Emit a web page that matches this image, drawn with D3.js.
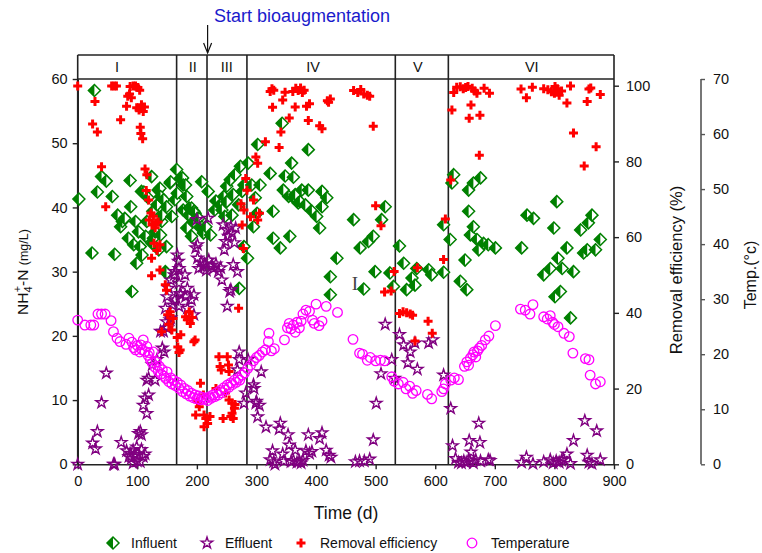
<!DOCTYPE html>
<html><head><meta charset="utf-8">
<script src="https://cdn.jsdelivr.net/npm/d3@7"></script>
<style>body{margin:0;background:#fff}svg{display:block;font-family:Arial,"Liberation Sans",sans-serif}</style>
</head><body><svg id="c" width="762" height="553"></svg>
<script>
// ---- data: [day, value] ----
const influent = [[2,41.3],[24,32.9],[28,58.2],[33,42.4],[40,44.8],[48,44.1],[58,41.7],[62,32.7],[67,38.8],[72,37.0],[75,37.8],[79,38.3],[85,35.2],[88,44.2],[89,40.1],[91,26.9],[94,34.2],[97,37.8],[99,31.3],[102,36.2],[105,33.9],[107,42.5],[108,32.6],[111,42.4],[114,35.5],[116,37.8],[118,41.5],[124,44.8],[125,34.4],[126,39.4],[127,35.2],[130,36.2],[133,40.4],[135,42.7],[136,33.4],[138,43.0],[139,41.7],[139,35.7],[141,37.8],[142,38.8],[144,41.2],[147,30.0],[149,40.1],[149,33.9],[149,29.8],[155,43.8],[156,44.0],[158,38.6],[163,41.2],
[166,45.9],[167,42.2],[172,44.5],[176,44.6],[177,43.5],[177,39.6],[181,43.5],[183,41.7],[183,36.8],[186,38.8],[187,39.9],[191,39.9],[191,35.5],[194,37.8],[195,39.4],[197,39.1],[201,38.3],[203,38.3],[206,36.8],[208,44.0],[208,37.0],[211,36.0],[215,37.0],
[219,42.5],[223,35.7],[230,39.6],[232,41.0],[239,40.4],[242,39.6],[245,41.7],[247,38.6],[250,43.3],[250,40.9],[256,44.3],[259,38.8],[261,42.0],[264,45.1],[270,40.4],[271,27.4],[273,46.4],[276,42.5],[279,33.9],[279,43.5],
[285,32.1],[286,46.9],[292,43.5],[295,37.0],[298,41.5],[301,39.1],[302,49.8],[306,43.5],[323,45.3],[328,39.4],[328,35.2],[340,33.7],[343,53.1],[345,42.7],[348,44.9],[354,41.7],[356,35.5],[359,46.9],[362,44.7],[362,41.5],[365,42.0],[370,40.7],[373,40.9],[376,42.7],[382,40.4],[387,49.0],[387,42.7],[393,39.4],[401,38.6],[406,36.8],[410,42.5],[410,40.1],[418,41.5],[424,29.2],[424,26.4],[435,32.1],[463,38.1],[474,33.7],[480,27.3],[488,34.7],[496,35.5],[499,30.0],[510,38.1],[516,40.1],[524,29.8],[530,27.7],
[540,34.0],[547,31.3],[552,27.2],[561,29.0],[566,27.9],[569,30.5],[589,30.3],[594,29.5],[614,29.9],[614,37.3],
[625,35.0],[628,43.8],[631,45.1],[642,28.5],[650,31.8],[653,27.2],[656,42.7],[656,39.4],[659,35.7],[664,43.8],[664,37.0],[670,35.0],[673,33.4],[676,44.6],[681,34.4],[689,34.2],[701,33.7],[745,33.7],[754,38.8],[765,38.3],[782,29.5],[793,30.5],[799,36.8],[801,26.1],[804,40.9],[806,32.1],[810,26.9],[813,30.5],[821,33.7],[827,22.8],[832,30.0],[844,36.5],[849,32.9],[855,33.4],[857,37.6],[863,38.8],[869,33.4],[877,35.0]];

const effluent = [[0,0],[25,3.3],[30,2.4],[33,5.1],[40,9.6],[48,14.2],[60,0],[62,0],[73,3.4],[82,2.1],[86,1.2],[88,1.7],[90,0.9],[93,2.2],[93,0.2],[96,1.5],[99,2.7],[100,0.5],[102,4.8],[105,5.1],[105,0.4],[107,4.6],[107,2.3],[110,1.2],[110,9.2],[113,1.6],[113,10.3],[116,7.9],[116,13.1],[119,10.8],[119,13.4],[125,15.5],[130,13.1],[133,16.3],[139,20.7],[142,18.1],[144,20.7],[145,17.5],[147,24.3],[149,22.2],[150,26.1],[150,21.2],[153,27.4],[155,22.5],[156,28.7],[156,22.8],[159,24.8],[162,29.5],[163,30.0],[163,25.6],
[167,32.6],[169,31.6],[170,30.5],[170,28.2],[170,24.6],[172,26.6],[173,26.4],[180,29.5],[181,26.1],[184,27.4],[184,24.3],[191,25.6],[195,26.4],[195,23.3],[198,33.7],[200,38.1],[201,34.2],[201,32.1],[203,30.5],[207,31.5],[210,30.8],[213,31.2],[216,30.2],
[219,38.3],[220,31.8],[225,31.0],[228,30.5],[232,31.2],[236,30.0],[240,30.6],[242,28.7],[244,37.3],[246,33.4],[248,34.7],[250,36.5],[251,24.6],[253,35.5],[255,26.9],[257,37.0],[257,27.2],[259,36.0],[261,31.1],[263,34.5],[265,36.8],[268,30.0],[268,14.7],[271,17.5],[271,16.3],[279,9.5],[282,11.1],
[286,16.3],[295,12.4],[296,11.8],[299,9.5],[300,9.8],[302,7.4],[305,9.2],[308,14.4],[316,5.8],[323,0.7],[327,2.1],[329,0.4],[331,0],[338,5.5],[340,6.4],[344,1.6],[346,0.5],[353,4.6],[355,3.0],[358,0.4],[362,0.6],[365,2.2],[368,0.3],[372,0.5],[375,0.2],[378,0.6],[383,2.1],[387,4.6],[389,1.7],[393,2.0],[406,4.0],[410,4.9],[417,2.2],[422,1.4],[425,1.1],[466,0.4],[473,0.5],[481,0.5],[490,0.8],[496,3.8],[501,9.5],[509,14.1],[516,21.8],[527,16.3],[532,13.4],
[540,20.2],[547,18.6],[554,15.8],[558,17.5],[566,18.9],[570,14.8],[589,18.9],[596,19.4],[614,13.9],
[626,8.7],[629,2.9],[634,0.9],[639,0.3],[644,0.2],[648,0.5],[652,0.3],[657,3.7],[658,0.6],[660,1.9],[664,0.2],[668,0.7],[673,6.4],[675,3.4],[676,0.5],[689,0.7],[692,0.6],[745,0.3],[753,1.1],[764,0.1],[782,0.4],[793,0.7],[798,0.2],[803,0.5],[808,0.3],[812,0.6],[815,0.8],[821,1.6],[827,0.1],[832,3.7],[851,6.8],[855,1.4],[858,0.3],[863,0.1],[871,5.2],[877,0.7]];

const removal = [[0,99.9],[25,89.9],[29,95.8],[33,87.8],[40,78.6],[47,68.0],[57,99.9],[61,99.9],[65,99.9],[72,91.0],[82,94.6],[84,97.2],[87,97.8],[88,99.8],[90,96.8],[93,99.9],[97,99.9],[99,94.2],[101,99.5],[103,93.6],[104,98.8],[105,89.0],[106,87.4],[107,95.0],[109,86.0],[110,93.2],[112,94.4],[113,78.0],[115,72.3],[116,76.5],[119,69.8],[120,64.5],[123,66.4],[124,54.4],[124,49.8],[125,63.2],[127,65.5],[128,58.4],[130,62.5],[131,63.8],[133,56.5],[135,64.0],[138,58.0],[138,51.3],[141,35.0],[147,47.4],[149,46.0],
[151,39.5],[153,37.0],[155,40.3],[158,35.5],[160,38.5],[167,33.5],[168,31.0],[170,29.5],[172,30.2],[173,34.2],[181,39.0],[184,38.2],[187,40.3],[189,37.2],[192,38.8],[195,32.4],[197,32.8],
[198,13.0],[201,16.5],[204,15.2],[206,21.4],[211,18.3],[212,9.9],[212,13.0],[215,12.1],[218,10.8],[222,12.6],
[232,20.0],[237,28.4],[239,25.8],[241,24.9],[244,12.1],[248,18.8],[251,28.4],[253,26.2],[254,17.0],[254,24.5],[257,12.6],[259,16.1],[259,13.5],[261,12.1],[263,14.8],[264,15.8],[270,41.2],[274,68.8],[276,63.2],[278,57.0],[279,67.2],[282,75.5],[284,72.4],
[290,65.4],[295,69.8],[299,81.2],[302,79.5],[302,64.5],[305,66.3],[315,85.2],[323,98.5],[326,99.2],[327,94.3],[329,98.8],[338,83.7],[341,87.8],[344,96.2],[348,98.3],[355,91.5],[361,98.5],[365,94.4],[366,99.3],[370,98.7],[374,99.4],[377,98.2],[380,98.8],[384,94.6],[387,90.8],[389,95.2],[406,89.4],[410,88.6],[419,96.0],[421,95.6],[424,96.5],[463,98.7],[470,98.2],[475,99.0],[480,97.8],[486,97.5],[490,97.2],[496,89.3],[500,68.3],[509,63.0],[515,45.5],[526,45.8],[531,50.9],
[540,39.8],[546,40.3],[552,40.0],[558,39.7],[562,39.4],[566,32.6],[570,51.9],[588,37.8],[595,34.6],[614,54.1],[617,64.8],
[626,75.1],[628,93.6],[631,98.2],[636,99.6],[642,99.7],[647,99.2],[651,99.5],[655,99.8],[657,91.4],[660,94.9],[662,99.3],[666,98.6],[670,98.0],[674,81.6],[675,92.2],[682,99.3],[691,98.0],[744,99.1],[753,96.8],[763,99.6],[782,99.2],[789,98.9],[795,98.4],[800,98.0],[801,99.8],[805,99.2],[808,97.5],[812,98.6],[821,95.4],[827,99.9],[832,87.5],[850,78.8],[855,95.8],[858,99.1],[861,99.4],[870,83.9],[877,97.7]];

const temperature = [[0,26.2],[12,25.3],[22,25.3],[27,25.3],[34,27.3],[40,27.3],[46,27.3],[56,26.1],[60,24.1],[66,22.9],[71,22.3],[81,21.8],[86,22.9],[91,22.2],[94,21.2],[97,20.8],[100,21.6],[104,20.4],[106,21.7],[108,20.8],[110,22.6],[113,20.5],[116,21.4],[118,19.8],[120,20.3],[122,19.0],[125,18.4],[127,20.4],[130,17.6],[132,18.6],[135,16.9],[137,17.8],[140,16.4],[142,17.2],[145,16.0],[148,15.6],[150,16.8],[153,15.0],[156,15.7],[158,14.6],[161,15.3],[164,14.3],[167,14.9],[170,13.8],[173,14.4],[176,13.2],[179,13.8],[182,12.8],[185,13.4],[188,12.4],[191,12.9],[194,12.1],[197,12.6],[200,11.9],[203,12.4],[206,11.7],[209,12.2],[212,11.8],[215,12.0],[218,11.6],[221,12.3],[224,12.0],[227,12.6],[230,12.3],[233,13.0],[236,12.6],[239,13.4],[242,13.0],[245,13.9],[248,13.5],[251,14.4],[254,14.0],[257,14.8],[260,14.5],[263,15.3],[266,14.9],[269,15.6],[272,15.3],[276,16.2],[280,16.6],[285,17.4],[290,18.0],[295,18.8],[300,19.4],[305,19.8],[310,20.4],[315,20.8],[320,22.3],[321,23.8],[325,20.6],[330,21.0],[347,22.6],[352,24.8],[355,25.6],[358,24.6],[362,25.3],[365,24.0],[368,25.8],[372,24.8],[375,26.0],[378,27.3],[383,28.0],[389,27.8],[394,26.2],[397,25.6],[400,29.1],[405,25.2],[410,26.0],[417,28.7],[436,27.6],[462,22.7],[473,20.2],[478,20.0],[486,18.9],[491,19.4],[500,18.8],[508,18.9],[515,18.8],[527,15.9],[531,15.1],[538,14.6],[546,14.9],[551,13.7],[557,14.2],[562,12.9],[568,13.4],[587,12.7],[594,11.9],[611,13.2],[614,13.7],[617,14.6],[626,15.3],[632,15.7],[639,15.4],[649,17.8],[653,18.6],[656,18.0],[659,19.3],[663,19.9],[665,20.4],[668,19.5],[671,20.6],[674,21.1],[678,21.6],[684,22.6],[690,23.3],[701,25.2],[743,28.2],[751,28.0],[759,27.3],[764,29.0],[782,26.8],[788,26.4],[793,27.0],[797,25.8],[800,25.4],[806,25.0],[816,23.8],[825,23.2],[831,20.2],[852,19.2],[858,19.0],[860,16.2],[869,14.6],[877,15.0]];

const phaseBounds = [166, 217, 284, 533, 622];
const phaseNames = ["I","II","III","IV","V","VI"];
const phaseLabelDays = [66, 193, 250, 395, 571, 762];
const xTicks = [0,100,200,300,400,500,600,700,800,900];
const yTicks = [0,10,20,30,40,50,60];
const effTicks = [0,20,40,60,80,100];
const tempTicks = [0,10,20,30,40,50,60,70];
const legendItems = ["Influent","Effluent","Removal efficiency","Temperature"];
const bioStartDay = 218;

// ---- drawing ----
const svg = d3.select("#c");
const L = 77.7, R = 614, T = 79, B = 464.3, TOPBAND = 55;
const x = d3.scaleLinear().domain([0,900]).range([L,R]);
const yN = d3.scaleLinear().domain([0,60]).range([B,T]);
const yE = d3.scaleLinear().domain([0,100]).range([B,85.7]);
const yT = d3.scaleLinear().domain([0,70]).range([B,T]);
const axisCol = "#222";
const green="#008000", purple="#800080", red="#ff0000", magenta="#ff00ff";

function styleAxis(g){
  g.selectAll("path.domain").attr("stroke",axisCol).attr("stroke-width",1.6);
  g.selectAll(".tick line").attr("stroke",axisCol).attr("stroke-width",1.4);
  g.selectAll(".tick text").attr("fill","#111").style("font-size","14.5px").style("font-family","Arial, 'Liberation Sans', sans-serif");
}
const gx = svg.append("g").attr("transform",`translate(0,${B})`)
  .call(d3.axisBottom(x).tickValues(xTicks).tickSize(5).tickSizeOuter(0).tickPadding(6));
styleAxis(gx);
const gy = svg.append("g").attr("transform",`translate(${L},0)`)
  .call(d3.axisLeft(yN).tickValues(yTicks).tickSize(5).tickSizeOuter(0).tickPadding(5));
styleAxis(gy);
const ge = svg.append("g").attr("transform",`translate(${R},0)`)
  .call(d3.axisRight(yE).tickValues(effTicks).tickSize(5).tickSizeOuter(0).tickPadding(7));
styleAxis(ge);
ge.select("path.domain").remove();
const gt = svg.append("g").attr("transform",`translate(701,0)`)
  .call(d3.axisRight(yT).tickValues(tempTicks).tickSize(4).tickSizeOuter(0).tickPadding(8));
styleAxis(gt);
gt.select("path.domain").remove();
gt.append("line").attr("x1",0).attr("x2",0).attr("y1",yT(70)).attr("y2",yT(0)).attr("stroke","#555").attr("stroke-width",1.6);
gt.selectAll(".tick line").attr("stroke","#555");

const frame = svg.append("g").attr("stroke",axisCol).attr("stroke-width",1.6).attr("fill","none");
frame.append("line").attr("x1",L).attr("x2",L).attr("y1",TOPBAND).attr("y2",B);
frame.append("line").attr("x1",R).attr("x2",R).attr("y1",TOPBAND).attr("y2",B);
frame.append("line").attr("x1",L).attr("x2",R).attr("y1",TOPBAND).attr("y2",TOPBAND);
frame.append("line").attr("x1",L).attr("x2",R).attr("y1",T).attr("y2",T);
frame.selectAll("line.ph").data(phaseBounds).join("line").attr("class","ph")
  .attr("x1",d=>x(d)).attr("x2",d=>x(d)).attr("y1",TOPBAND).attr("y2",B);
svg.append("g").selectAll("text").data(phaseNames).join("text")
  .attr("x",(d,i)=>x(phaseLabelDays[i])).attr("y",72).attr("text-anchor","middle")
  .style("font-size","14.5px").attr("fill","#111").text(d=>d);

const plot = svg.append("g");
const dia = "M0,-6L6,0L0,6L-6,0Z", diaHalf = "M0,-6L0,6L-6,0Z";
const inf = plot.append("g").selectAll("g").data(influent).join("g")
  .attr("transform",d=>`translate(${x(d[0])},${yN(d[1])})`);
inf.append("path").attr("d",dia).attr("fill","#fff").attr("stroke",green).attr("stroke-width",1.5);
inf.append("path").attr("d",diaHalf).attr("fill",green);

const star = d3.symbol().type(d3.symbolStar).size(40)();
plot.append("g").selectAll("path").data(effluent).join("path")
  .attr("d",star).attr("transform",d=>`translate(${x(d[0])},${yN(d[1])})`)
  .attr("fill","none").attr("stroke",purple).attr("stroke-width",1.4);

const cross = d3.symbol().type(d3.symbolCross).size(45)();
plot.append("g").selectAll("path").data(removal).join("path")
  .attr("d",cross).attr("transform",d=>`translate(${x(d[0])},${yE(d[1])})`)
  .attr("fill",red);

plot.append("g").selectAll("circle").data(temperature).join("circle")
  .attr("cx",d=>x(d[0])).attr("cy",d=>yT(d[1])).attr("r",4.8)
  .attr("fill","none").attr("stroke",magenta).attr("stroke-width",1.3);

svg.append("text").attr("x",355).attr("y",290).attr("text-anchor","middle")
  .style("font-family","'Liberation Serif','DejaVu Serif',serif").style("font-size","19px").attr("fill","#444").text("I");

const ax = x(bioStartDay);
svg.append("text").attr("x",214).attr("y",22).style("font-size","18px").attr("fill","#1a1acc").text("Start bioaugmentation");
svg.append("line").attr("x1",ax).attr("x2",ax).attr("y1",25).attr("y2",53).attr("stroke","#111").attr("stroke-width",1.2);
svg.append("path").attr("d",`M${ax-4},43L${ax},53L${ax+4},43`).attr("fill","none").attr("stroke","#111").attr("stroke-width",1.2);

svg.append("text").attr("x",346).attr("y",519).attr("text-anchor","middle").style("font-size","17.5px").attr("fill","#111").text("Time (d)");
const yl = svg.append("text").attr("transform","translate(28,272) rotate(-90)").attr("text-anchor","middle").attr("fill","#111").style("font-size","15.5px");
yl.append("tspan").text("NH");
yl.append("tspan").attr("dy",4).style("font-size","11px").text("4");
yl.append("tspan").attr("dy",-11).attr("dx",-6).style("font-size","11px").text("+");
yl.append("tspan").attr("dy",7).text("-N ");
yl.append("tspan").style("font-size","12.5px").text("(mg/L)");
svg.append("text").attr("transform","translate(682,270) rotate(-90)").attr("text-anchor","middle").style("font-size","16.5px").attr("fill","#111").text("Removal efficiency (%)");
svg.append("text").attr("transform","translate(756,275) rotate(-90)").attr("text-anchor","middle").style("font-size","16px").attr("fill","#111").text("Temp.(°c)");

const legX = [113, 207, 301, 472], legTX = [131, 225, 320, 491], legY = 543;
const lg = svg.append("g");
legendItems.forEach((name,i)=>{
  const g = lg.append("g").attr("transform",`translate(${legX[i]},${legY})`);
  if(i===0){ g.append("path").attr("d",dia).attr("fill","#fff").attr("stroke",green).attr("stroke-width",1.5); g.append("path").attr("d",diaHalf).attr("fill",green); }
  if(i===1){ g.append("path").attr("d",star).attr("fill","none").attr("stroke",purple).attr("stroke-width",1.4); }
  if(i===2){ g.append("path").attr("d",cross).attr("fill",red); }
  if(i===3){ g.append("circle").attr("r",4.8).attr("fill","none").attr("stroke",magenta).attr("stroke-width",1.3); }
  lg.append("text").attr("x",legTX[i]).attr("y",legY+5).style("font-size","14px").attr("fill","#111").text(name);
});
</script></body></html>
